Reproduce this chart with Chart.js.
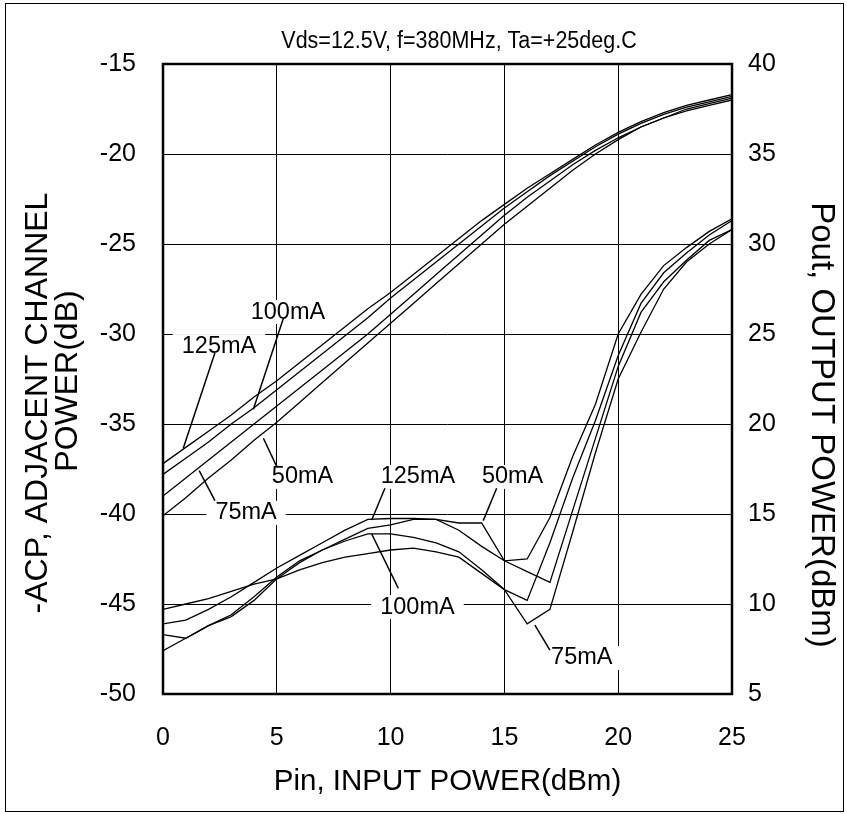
<!DOCTYPE html>
<html>
<head>
<meta charset="utf-8">
<script src="https://cdn.jsdelivr.net/npm/chart.js@4.4.1/dist/chart.umd.min.js"></script>
<style>
  html, body { margin: 0; padding: 0; background: #fff; }
  #wrap { width: 847px; height: 814px; }
</style>
</head>
<body>
<div id="wrap"><canvas id="acp-chart" width="847" height="814"></canvas></div>
<script>
( function() {
	'use strict';

	// Pin, input power (dBm)
	var pin = [ 0, 1, 2, 3, 4, 5, 6, 7, 8, 9, 10, 11, 12, 13, 14, 15, 16, 17, 18, 19, 20, 21, 22, 23, 24, 25 ];

	// Pout, output power (dBm) - right axis
	var pout125 = [ 17.8, 18.7, 19.6, 20.5, 21.5, 22.4, 23.4, 24.4, 25.4, 26.4, 27.3, 28.3, 29.3, 30.3, 31.3, 32.2, 33.1, 33.9, 34.7, 35.5, 36.2, 36.8, 37.3, 37.7, 38.0, 38.3 ];
	var pout100 = [ 17.2, 18.1, 19.0, 20.0, 20.9, 21.9, 22.9, 23.9, 24.9, 25.9, 27.0, 28.0, 29.0, 30.0, 31.0, 32.0, 32.9, 33.8, 34.6, 35.4, 36.1, 36.7, 37.2, 37.6, 37.9, 38.2 ];
	var pout75 = [ 16.0, 17.0, 18.0, 19.0, 20.0, 21.0, 22.0, 23.0, 24.0, 25.0, 26.1, 27.2, 28.3, 29.4, 30.5, 31.6, 32.6, 33.5, 34.4, 35.2, 35.9, 36.5, 37.0, 37.5, 37.8, 38.1 ];
	var pout50 = [ 14.9, 15.9, 17.0, 18.0, 19.1, 20.1, 21.2, 22.3, 23.4, 24.5, 25.6, 26.7, 27.8, 28.9, 30.0, 31.1, 32.1, 33.1, 34.1, 35.0, 35.8, 36.5, 37.0, 37.4, 37.7, 38.0 ];

	// -ACP, adjacent channel power (dB) - left axis
	var acp125 = [ -46.1, -45.9, -45.3, -44.6, -43.8, -43.0, -42.3, -41.6, -40.9, -40.3, -40.25, -40.25, -40.3, -40.9, -41.8, -42.6, -43.2, -43.8, -39.8, -35.8, -31.8, -28.8, -27.1, -25.9, -24.8, -24.2 ];
	var acp100 = [ -47.6, -46.9, -46.2, -45.7, -44.8, -43.6, -42.7, -42.0, -41.5, -41.1, -41.1, -41.3, -41.6, -42.1, -43.1, -44.2, -44.8, -41.6, -38.0, -34.8, -31.2, -28.3, -26.6, -25.5, -24.5, -23.7 ];
	var acp75 = [ -45.3, -45.0, -44.7, -44.3, -43.9, -43.6, -43.1, -42.7, -42.4, -42.2, -42.0, -41.9, -42.1, -42.4, -43.3, -44.2, -46.1, -45.3, -41.0, -36.6, -32.5, -29.9, -27.5, -26.0, -25.0, -24.2 ];
	var acp50 = [ -46.7, -46.9, -46.2, -45.6, -44.6, -43.5, -42.6, -42.0, -41.4, -40.8, -40.6, -40.3, -40.3, -40.5, -40.5, -42.6, -42.5, -40.2, -36.8, -33.9, -30.0, -27.8, -26.2, -25.2, -24.3, -23.6 ];

	// axis ranges / tick steps
	var xRange = [ 0, 25 ];
	var acpRange = [ -50, -15 ];
	var poutRange = [ 5, 40 ];
	var tickStep = 5;

	var titleText = 'Vds=12.5V, f=380MHz, Ta=+25deg.C';
	var leftTitle = [ '-ACP, ADJACENT CHANNEL', 'POWER(dB)' ];
	var rightTitle = 'Pout, OUTPUT POWER(dBm)';
	var FONT = '"Liberation Sans", Arial, Helvetica, sans-serif';

	// curve labels, placed in (Pin, -ACP) coordinates
	var curveLabels = [
		{ text: '125mA', at: [ 2.46, -30.67 ], from: [ 2.28, -31.06 ], to: [ 0.89, -36.35 ] },
		{ text: '100mA', at: [ 5.49, -28.78 ], from: [ 5.29, -29.13 ], to: [ 3.97, -34.18 ] },
		{ text: '50mA', at: [ 6.13, -37.94 ], from: [ 5.0, -37.37 ], to: [ 4.41, -35.79 ] },
		{ text: '75mA', at: [ 3.65, -39.94 ], from: [ 2.28, -39.26 ], to: [ 1.59, -37.59 ] },
		{ text: '125mA', at: [ 11.2, -37.94 ], from: [ 9.75, -38.57 ], to: [ 9.17, -40.33 ] },
		{ text: '50mA', at: [ 15.36, -37.94 ], from: [ 14.66, -38.57 ], to: [ 14.07, -40.37 ] },
		{ text: '100mA', at: [ 11.18, -45.17 ], from: [ 10.34, -44.13 ], to: [ 9.17, -41.11 ] },
		{ text: '75mA', at: [ 18.4, -48.0 ], from: [ 17.0, -47.56 ], to: [ 16.34, -46.17 ] }
	];

	function points( ys ) {
		return pin.map( function( x, i ) {
			return { x: x, y: ys[ i ] };
		} );
	}

	function line( ys, axis ) {
		return {
			data: points( ys ),
			yAxisID: axis,
			borderColor: '#000',
			borderWidth: 1.3,
			pointRadius: 0,
			tension: 0,
			fill: false
		};
	}

	function rotatedText( ctx, text, x, y, angle ) {
		ctx.save();
		ctx.translate( x, y );
		ctx.rotate( angle );
		ctx.fillText( text, 0, 0 );
		ctx.restore();
	}

	var decorPlugin = {
		id: 'decor',
		afterDatasetsDraw: function( chart ) {
			var ctx = chart.ctx;
			var sx = chart.scales.x;
			var sy = chart.scales.y;
			var area = chart.chartArea;

			ctx.save();
			ctx.font = '23.5px ' + FONT;
			ctx.textAlign = 'center';
			ctx.textBaseline = 'middle';

			curveLabels.forEach( function( lb ) {
				var cx = sx.getPixelForValue( lb.at[ 0 ] );
				var cy = sy.getPixelForValue( lb.at[ 1 ] );
				var w = ctx.measureText( lb.text ).width;
				ctx.fillStyle = '#fff';
				ctx.fillRect( cx - w / 2 - 9, cy - 12, w + 18, 24 );
				ctx.fillStyle = '#000';
				ctx.fillText( lb.text, cx, cy );

				ctx.beginPath();
				ctx.lineWidth = 1.5;
				ctx.strokeStyle = '#000';
				ctx.moveTo( sx.getPixelForValue( lb.from[ 0 ] ), sy.getPixelForValue( lb.from[ 1 ] ) );
				ctx.lineTo( sx.getPixelForValue( lb.to[ 0 ] ), sy.getPixelForValue( lb.to[ 1 ] ) );
				ctx.stroke();
			} );

			// plot frame
			ctx.lineWidth = 2.5;
			ctx.strokeStyle = '#000';
			ctx.strokeRect( area.left, area.top, area.right - area.left, area.bottom - area.top );
			ctx.restore();
		},
		afterDraw: function( chart ) {
			var ctx = chart.ctx;
			ctx.save();
			ctx.fillStyle = '#000';
			ctx.textAlign = 'center';
			ctx.textBaseline = 'middle';

			// title glyphs are a little taller than wide in the original
			ctx.save();
			ctx.translate( 459, 41 );
			ctx.scale( 1, 1.15 );
			ctx.font = '21.5px ' + FONT;
			ctx.fillText( titleText, 0, 0 );
			ctx.restore();

			// rotated axis titles
			ctx.font = '32px ' + FONT;
			rotatedText( ctx, leftTitle[ 0 ], 38, 403, -Math.PI / 2 );
			rotatedText( ctx, leftTitle[ 1 ], 68, 381, -Math.PI / 2 );
			ctx.font = '33px ' + FONT;
			rotatedText( ctx, rightTitle, 821, 425, Math.PI / 2 );

			// outer picture border
			ctx.lineWidth = 1;
			ctx.strokeStyle = '#000';
			ctx.strokeRect( 5.5, 3.5, 838, 808 );
			ctx.restore();
		}
	};

	var tickFont = { family: FONT, size: 25 };

	new Chart( document.getElementById( 'acp-chart' ), {
		type: 'line',
		data: {
			datasets: [
				line( pout125, 'y1' ),
				line( pout100, 'y1' ),
				line( pout75, 'y1' ),
				line( pout50, 'y1' ),
				line( acp125, 'y' ),
				line( acp100, 'y' ),
				line( acp75, 'y' ),
				line( acp50, 'y' )
			]
		},
		options: {
			responsive: false,
			animation: false,
			devicePixelRatio: 1,
			layout: { padding: { top: 64, left: 0, right: 0, bottom: 0 } },
			plugins: {
				legend: { display: false },
				tooltip: { enabled: false },
				title: { display: false }
			},
			scales: {
				x: {
					type: 'linear',
					min: xRange[ 0 ],
					max: xRange[ 1 ],
					ticks: { stepSize: tickStep, color: '#000', font: tickFont, padding: 29 },
					grid: { color: '#000', lineWidth: 1, drawTicks: false },
					border: { display: false },
					title: {
						display: true,
						text: 'Pin, INPUT POWER(dBm)',
						color: '#000',
						font: { family: FONT, size: 29.5 },
						padding: { top: 0, bottom: 14 }
					},
					afterFit: function( scale ) {
						scale.height = 120;
					}
				},
				y: {
					type: 'linear',
					position: 'left',
					min: acpRange[ 0 ],
					max: acpRange[ 1 ],
					ticks: { stepSize: tickStep, color: '#000', font: tickFont, padding: 27 },
					grid: { color: '#000', lineWidth: 1, drawTicks: false },
					border: { display: false },
					afterFit: function( scale ) {
						scale.width = 163;
					}
				},
				y1: {
					type: 'linear',
					position: 'right',
					min: poutRange[ 0 ],
					max: poutRange[ 1 ],
					ticks: { stepSize: tickStep, color: '#000', font: tickFont, padding: 16 },
					grid: { drawOnChartArea: false, drawTicks: false },
					border: { display: false },
					afterFit: function( scale ) {
						scale.width = 115;
					}
				}
			}
		},
		plugins: [ decorPlugin ]
	} );
} )();
</script>
</body>
</html>
